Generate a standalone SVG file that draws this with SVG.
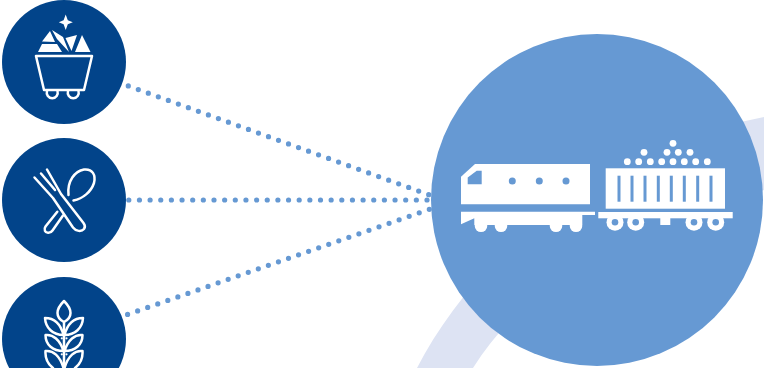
<svg xmlns="http://www.w3.org/2000/svg" width="764" height="368" viewBox="0 0 764 368">
<style>
.dark{fill:#02448a}
.mid{fill:#6699d3}
.w{fill:#fff}
.o{fill:none;stroke:#fff;stroke-width:2.500;stroke-linecap:round;stroke-linejoin:round}
.dot{fill:none;stroke:#6699d3;stroke-width:5.200;stroke-linecap:round;stroke-dasharray:0 10.65}
.slot{fill:#6699d3}
</style>
<rect width="764" height="368" fill="#fff"/>
<path id="band" d="M417 368C470 265 590 150 764 117L764 190L640 240C560 270 510 310 473 368Z" fill="#dde3f3"/>
<g id="connectors">
<path class="dot" d="M428.700 194.700L123 84"/>
<path class="dot" d="M427 200L127 200"/>
<path class="dot" d="M429.300 209.300L123 316"/>
</g>
<g id="hub">
<circle class="mid" cx="597" cy="200" r="166"/>
<g class="w">
<path d="M461 176.700L475 164H590V204.300H461Z"/>
<path d="M461 211.700H595V215H582.300V225H474.300V218.300L461 224.300Z"/>
<circle cx="481" cy="225.700" r="6.300"/><circle cx="501" cy="225.700" r="6.300"/>
<circle cx="556" cy="225.700" r="6.300"/><circle cx="576" cy="225.700" r="6.300"/>
<rect x="605.700" y="168.300" width="119.300" height="40.400"/>
<rect x="598.300" y="212" width="134.400" height="6.300"/>
<rect x="660.300" y="218" width="10" height="7"/>
<circle cx="615" cy="222.300" r="8.500"/><circle cx="635.700" cy="222.300" r="8.500"/>
<circle cx="694" cy="222.300" r="8.500"/><circle cx="715.700" cy="222.300" r="8.500"/>
<circle cx="627.300" cy="161.700" r="3.400"/><circle cx="638.700" cy="161.700" r="3.400"/><circle cx="650.300" cy="161.700" r="3.400"/><circle cx="661.700" cy="161.700" r="3.400"/><circle cx="673" cy="161.700" r="3.400"/><circle cx="684.300" cy="161.700" r="3.400"/><circle cx="695.700" cy="161.700" r="3.400"/><circle cx="707.300" cy="161.700" r="3.400"/>
<circle cx="644" cy="152.300" r="3.400"/><circle cx="667" cy="152.300" r="3.400"/><circle cx="678.300" cy="152.300" r="3.400"/><circle cx="690" cy="152.300" r="3.400"/>
<circle cx="673" cy="143.300" r="3.400"/>
</g>
<path class="slot" d="M467.700 184.300V177.500L476.700 170.700H481.700V184.300Z"/>
<circle class="slot" cx="512.300" cy="181" r="3.500"/><circle class="slot" cx="539.300" cy="181" r="3.500"/><circle class="slot" cx="566" cy="181" r="3.500"/>
<rect class="slot" x="617.500" y="175.700" width="3" height="26"/><rect class="slot" x="630.500" y="175.700" width="3" height="26"/><rect class="slot" x="643.500" y="175.700" width="3" height="26"/><rect class="slot" x="656.800" y="175.700" width="3" height="26"/><rect class="slot" x="669.800" y="175.700" width="3" height="26"/><rect class="slot" x="682.800" y="175.700" width="3" height="26"/><rect class="slot" x="696.200" y="175.700" width="3" height="26"/><rect class="slot" x="709.500" y="175.700" width="3" height="26"/>
<circle class="slot" cx="615" cy="222.300" r="3.300"/><circle class="slot" cx="635.700" cy="222.300" r="3.300"/><circle class="slot" cx="694" cy="222.300" r="3.300"/><circle class="slot" cx="715.700" cy="222.300" r="3.300"/>
</g>
<g id="ore">
<circle class="dark" cx="64" cy="62" r="62"/>
<path class="w" d="M65.700 14.500L67.800 20.300L72.800 22.300L67.800 24.300L65.700 30L63.600 24.300L58.800 22.300L63.600 20.300Z"/>
<path class="w" d="M42 41.500L50 31L55 42ZM38 52L42 44H57L62 52ZM52 30L63 37L69 52L57 39ZM65.500 38L77 35L71.500 51ZM75 52L82 35L90.500 52Z"/>
<path class="o" d="M36 56H92L84 90H44ZM47 91A5.500 5.500 0 1 0 57.500 91M68 91A5.500 5.500 0 1 0 78.500 91"/>
</g>
<g id="food">
<circle class="dark" cx="64" cy="200" r="62"/>
<path class="o" d="M34.500 177.500L53 198L73 227.500C76 231.500 81.500 232 84 229C85.500 227 85 225 83.500 223L61 194L47 169.500M41 173.500L55 190"/>
<path class="o" d="M68.500 195C67 181 75 171 84 169.500C92.500 168.500 96 175 94 183C91 192 83 198.500 73.500 200.500"/>
<path class="o" d="M57.300 211.700L45.500 226.500C43.500 229.500 45 232.500 48 232.800C50 233 51.500 232 52.500 230.500L63 215.500"/>
</g>
<g id="grain">
<circle class="dark" cx="64" cy="339" r="62"/>
<path class="o" d="M64 301C60 305 57.500 309 57.500 313C57.500 317 60 320 64 322C68 320 70.500 317 70.500 313C70.500 309 68 305 64 301Z"/>
<path class="o" d="M64 322V368"/>
<path class="o" d="M45 318C52 318 60 322 63.500 335C53 335 45.500 328 45 318ZM83 318C76 318 68 322 64.500 335C75 335 82.500 328 83 318Z"/>
<path class="o" d="M45.500 335C53 334 60 340 63.500 351C53 351 45.500 345 45.500 335ZM82.500 335C75 334 68 340 64.500 351C75 351 82.500 345 82.500 335Z"/>
<path class="o" d="M45.500 351C53 350 60 356 63.500 368M82.500 351C75 350 68 356 64.500 368M45.500 351C45 358 48 364 53 368M82.500 351C83 358 80 364 75 368"/>
<circle class="w" cx="61.800" cy="338.300" r="1.100"/><circle class="w" cx="66.500" cy="338.300" r="1.100"/><circle class="w" cx="61.800" cy="354.300" r="1.100"/><circle class="w" cx="66.500" cy="354.300" r="1.100"/>
</g>
</svg>
